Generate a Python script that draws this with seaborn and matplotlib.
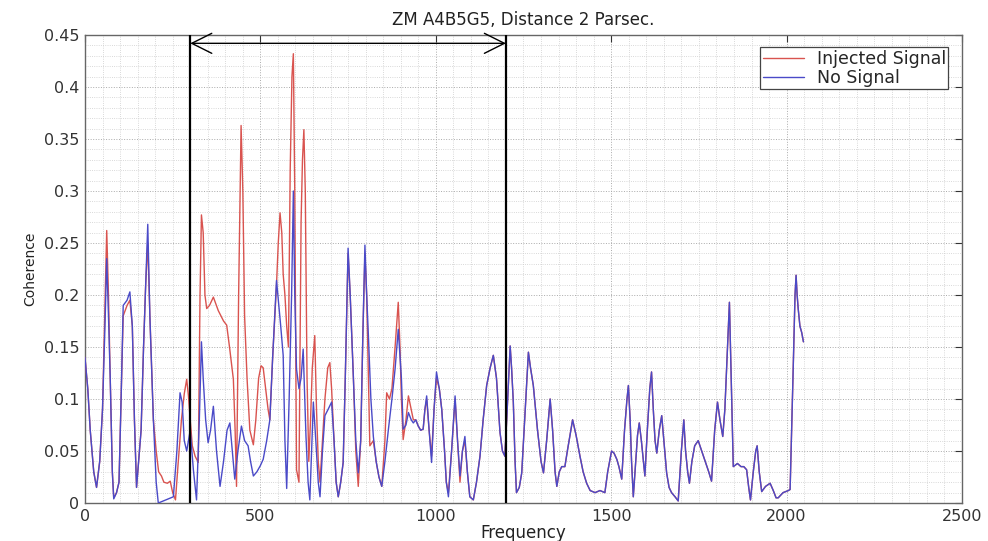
import matplotlib
matplotlib.use("Agg")
import matplotlib.pyplot as plt
import seaborn as sns
import pandas as pd
import numpy as np
from matplotlib.ticker import MultipleLocator, FuncFormatter

# ---------------- data ----------------
# No Signal (blue), frequencies < 1110
freq_nosig = [0, 8, 15, 25, 33, 42, 50, 57, 62, 67, 72, 78, 82, 90, 97, 103, 109, 120, 128, 135,
              141, 147, 153, 160, 167, 173, 179, 185, 195, 203, 209, 252, 262, 271, 277, 283, 290,
              300, 309, 318, 326, 332, 337, 344, 351, 358, 366, 375, 385, 395, 405, 413, 420, 427,
              436, 446, 455, 465, 472, 480, 490, 500, 508, 518, 527, 535, 546, 551, 558, 565, 570,
              575, 582, 589, 594, 598, 603, 610, 616, 622, 630, 636, 641, 646, 651, 658, 665, 670,
              677, 684, 693, 703, 710, 716, 722, 729, 736, 742, 750, 756, 765, 772, 779, 786, 792,
              798, 803, 808, 815, 822, 830, 838, 846, 855, 865, 875, 884, 893, 898, 902, 907, 915,
              922, 930, 936, 943, 950, 957, 964, 969, 974, 981, 988, 995, 1002, 1010, 1017, 1025,
              1030, 1036, 1045, 1055, 1062, 1069, 1076, 1083, 1090, 1097, 1107]
coh_nosig = [0.14, 0.11, 0.07, 0.03, 0.015, 0.04, 0.09, 0.17, 0.235, 0.18, 0.12, 0.03, 0.004, 0.01,
             0.02, 0.1, 0.19, 0.195, 0.203, 0.17, 0.08, 0.015, 0.04, 0.07, 0.15, 0.21, 0.268, 0.18,
             0.08, 0.02, 0.0, 0.006, 0.05, 0.106, 0.097, 0.06, 0.05, 0.07, 0.032, 0.003, 0.08,
             0.155, 0.12, 0.08, 0.058, 0.07, 0.093, 0.05, 0.016, 0.04, 0.07, 0.077, 0.05, 0.023,
             0.05, 0.074, 0.06, 0.055, 0.04, 0.026, 0.03, 0.036, 0.042, 0.06, 0.08, 0.14, 0.214,
             0.196, 0.17, 0.142, 0.06, 0.014, 0.1, 0.2, 0.30, 0.2, 0.129, 0.11, 0.12, 0.148, 0.064,
             0.02, 0.003, 0.05, 0.097, 0.06, 0.02, 0.006, 0.05, 0.084, 0.09, 0.097, 0.06, 0.02,
             0.006, 0.02, 0.039, 0.12, 0.245, 0.2, 0.122, 0.06, 0.029, 0.06, 0.16, 0.248, 0.2, 0.16,
             0.1, 0.064, 0.04, 0.025, 0.016, 0.04, 0.071, 0.1, 0.129, 0.167, 0.14, 0.12, 0.071,
             0.075, 0.087, 0.08, 0.077, 0.08, 0.074, 0.07, 0.071, 0.09, 0.103, 0.07, 0.039, 0.09,
             0.126, 0.11, 0.09, 0.05, 0.02, 0.006, 0.05, 0.103, 0.06, 0.026, 0.05, 0.064, 0.03,
             0.006, 0.003]

# Injected Signal (red), frequencies < 1110
freq_inj = [0, 8, 15, 25, 33, 42, 50, 57, 62, 67, 72, 78, 82, 90, 97, 103, 109, 120, 128, 135, 141,
            147, 153, 160, 167, 173, 179, 185, 195, 203, 210, 218, 225, 235, 243, 250, 258, 266, 275,
            283, 290, 295, 300, 306, 314, 323, 328, 332, 337, 342, 347, 355, 366, 380, 395, 404, 412,
            423, 428, 432, 438, 445, 450, 455, 462, 470, 480, 487, 495, 502, 508, 515, 522, 527, 535,
            546, 551, 556, 561, 565, 570, 575, 580, 585, 590, 594, 598, 603, 610, 616, 620, 624, 628,
            633, 638, 643, 648, 655, 660, 665, 670, 677, 684, 692, 698, 703, 710, 716, 722, 729, 736,
            742, 750, 756, 765, 772, 779, 786, 792, 798, 803, 808, 812, 822, 830, 838, 846, 855, 860,
            868, 875, 884, 893, 898, 902, 907, 915, 922, 930, 936, 943, 950, 957, 964, 969, 974, 981,
            988, 995, 1002, 1010, 1017, 1025, 1030, 1036, 1045, 1055, 1062, 1069, 1076, 1083, 1090,
            1097, 1107]
coh_inj = [0.14, 0.11, 0.07, 0.03, 0.015, 0.04, 0.09, 0.19, 0.262, 0.2, 0.12, 0.03, 0.005, 0.01, 0.02,
           0.1, 0.18, 0.19, 0.195, 0.17, 0.08, 0.015, 0.04, 0.07, 0.15, 0.21, 0.25, 0.18, 0.08, 0.05,
           0.03, 0.026, 0.02, 0.019, 0.021, 0.01, 0.003, 0.04, 0.08, 0.105, 0.119, 0.103, 0.08, 0.055,
           0.045, 0.039, 0.2, 0.277, 0.26, 0.2, 0.187, 0.19, 0.198, 0.185, 0.175, 0.171, 0.15, 0.119,
           0.07, 0.016, 0.2, 0.363, 0.3, 0.18, 0.12, 0.07, 0.056, 0.08, 0.12, 0.132, 0.13, 0.11, 0.09,
           0.08, 0.14, 0.21, 0.25, 0.279, 0.26, 0.22, 0.2, 0.17, 0.15, 0.32, 0.41, 0.432, 0.3, 0.032,
           0.02, 0.27, 0.33, 0.359, 0.3, 0.12, 0.04, 0.08, 0.13, 0.161, 0.09, 0.04, 0.02, 0.06, 0.1,
           0.13, 0.135, 0.11, 0.06, 0.02, 0.006, 0.02, 0.039, 0.12, 0.24, 0.2, 0.122, 0.05, 0.016,
           0.06, 0.16, 0.24, 0.2, 0.12, 0.055, 0.06, 0.04, 0.025, 0.016, 0.06, 0.106, 0.1, 0.11, 0.15,
           0.193, 0.15, 0.1, 0.061, 0.08, 0.103, 0.09, 0.08, 0.08, 0.074, 0.07, 0.071, 0.09, 0.1,
           0.07, 0.045, 0.09, 0.12, 0.11, 0.09, 0.05, 0.02, 0.01, 0.05, 0.1, 0.06, 0.02, 0.05, 0.06,
           0.03, 0.006, 0.003]

# Shared tail (both curves coincide), frequencies >= 1110
freq_tail = [1116, 1126, 1135, 1145, 1155, 1164, 1173, 1183, 1190, 1197, 1205, 1212, 1216, 1221, 1226,
             1230, 1238, 1245, 1255, 1264, 1270, 1278, 1290, 1300, 1307, 1316, 1326, 1333, 1340, 1345,
             1352, 1359, 1368, 1375, 1390, 1400, 1411, 1420, 1430, 1440, 1454, 1468, 1482, 1490, 1501,
             1508, 1516, 1522, 1530, 1538, 1545, 1549, 1554, 1558, 1563, 1570, 1575, 1580, 1586, 1592,
             1596, 1603, 1610, 1615, 1620, 1625, 1630, 1637, 1644, 1650, 1658, 1665, 1672, 1682, 1691,
             1700, 1707, 1712, 1718, 1723, 1730, 1738, 1748, 1758, 1768, 1778, 1786, 1795, 1803, 1810,
             1818, 1824, 1829, 1834, 1837, 1842, 1848, 1860, 1870, 1878, 1886, 1892, 1897, 1905, 1912,
             1916, 1922, 1929, 1940, 1953, 1962, 1970, 1976, 1990, 2005, 2010, 2016, 2019, 2024, 2027,
             2030, 2033, 2038, 2043, 2048]
coh_tail = [0.02, 0.045, 0.08, 0.113, 0.13, 0.142, 0.12, 0.068, 0.05, 0.045, 0.1, 0.151, 0.13, 0.097,
            0.04, 0.01, 0.015, 0.029, 0.09, 0.145, 0.13, 0.113, 0.07, 0.04, 0.029, 0.06, 0.10, 0.07,
            0.03, 0.016, 0.03, 0.035, 0.035, 0.05, 0.08, 0.065, 0.045, 0.03, 0.019, 0.012, 0.01, 0.012,
            0.01, 0.03, 0.05, 0.048, 0.042, 0.035, 0.023, 0.07, 0.1, 0.113, 0.08, 0.04, 0.006, 0.04,
            0.065, 0.077, 0.06, 0.04, 0.026, 0.07, 0.11, 0.126, 0.09, 0.06, 0.048, 0.07, 0.084, 0.06,
            0.029, 0.015, 0.01, 0.006, 0.002, 0.05, 0.08, 0.05, 0.03, 0.019, 0.04, 0.055, 0.06, 0.05,
            0.04, 0.03, 0.021, 0.07, 0.097, 0.08, 0.064, 0.09, 0.129, 0.17, 0.193, 0.12, 0.035, 0.038,
            0.035, 0.035, 0.032, 0.015, 0.003, 0.03, 0.05, 0.055, 0.03, 0.011, 0.016, 0.019, 0.012,
            0.005, 0.005, 0.01, 0.012, 0.013, 0.09, 0.132, 0.2, 0.219, 0.2, 0.187, 0.17, 0.164, 0.155]

band_edges = [300, 1200]
title_text = "ZM A4B5G5, Distance 2 Parsec."
series_names = ["Injected Signal", "No Signal"]
series_colors = ["#d9534f", "#4a4ac8"]

# ---------------- plotting ----------------
sns.set_style("white")
plt.rcParams["font.family"] = ["DejaVu Sans"]

df_inj = pd.DataFrame({"Frequency": freq_inj + freq_tail, "Coherence": coh_inj + coh_tail})
df_no = pd.DataFrame({"Frequency": freq_nosig + freq_tail, "Coherence": coh_nosig + coh_tail})

fig = plt.figure(figsize=(9.88, 5.41), dpi=100)
ax = fig.add_axes([0.086, 0.0702, 0.8877, 0.8651])

sns.lineplot(data=df_inj, x="Frequency", y="Coherence", ax=ax, color=series_colors[0],
             lw=1.0, sort=False, estimator=None, label=series_names[0], zorder=3)
sns.lineplot(data=df_no, x="Frequency", y="Coherence", ax=ax, color=series_colors[1],
             lw=1.0, sort=False, estimator=None, label=series_names[1], zorder=4)

ax.set_xlim(0, 2500)
ax.set_ylim(0, 0.45)
ax.xaxis.set_major_locator(MultipleLocator(500))
ax.xaxis.set_minor_locator(MultipleLocator(50))
ax.yaxis.set_major_locator(MultipleLocator(0.05))
ax.yaxis.set_minor_locator(MultipleLocator(0.01))
ax.yaxis.set_major_formatter(FuncFormatter(lambda v, p: ("%g" % round(v, 2))))
ax.grid(which="minor", color="#cccccc", linestyle=":", linewidth=0.6)
ax.grid(which="major", color="#aaaaaa", linestyle=":", linewidth=0.7)
ax.set_axisbelow(True)
ax.tick_params(which="major", direction="in", length=5, top=True, right=True,
               labelsize=11.5, colors="#333333", pad=4)
ax.tick_params(which="minor", length=0)
for s in ax.spines.values():
    s.set_color("#666666")
    s.set_linewidth(1.0)

for x in band_edges:
    ax.axvline(x, color="black", lw=1.6, zorder=5)
ax.annotate("", xy=(band_edges[1], 0.442), xytext=(band_edges[0], 0.442),
            arrowprops=dict(arrowstyle="<->,head_length=0.4,head_width=0.2", color="black", lw=1.0,
                            mutation_scale=36, shrinkA=0, shrinkB=0), zorder=6)

ax.set_title(title_text, fontsize=12, color="#222222", pad=7)
ax.set_xlabel("Frequency", fontsize=12, labelpad=0, color="#222222")
ax.set_ylabel("Coherence", fontsize=10, labelpad=5, color="#222222")

leg = ax.legend(loc="upper right", bbox_to_anchor=(0.9905, 0.985), fontsize=12.5,
                frameon=True, fancybox=False, handlelength=2.4, borderpad=0.15,
                labelspacing=0.05, handletextpad=0.7, borderaxespad=0.3)
leg.get_frame().set_edgecolor("#444444")
leg.get_frame().set_linewidth(0.9)
leg.get_frame().set_alpha(1)

fig.savefig("out.png", dpi=100)
